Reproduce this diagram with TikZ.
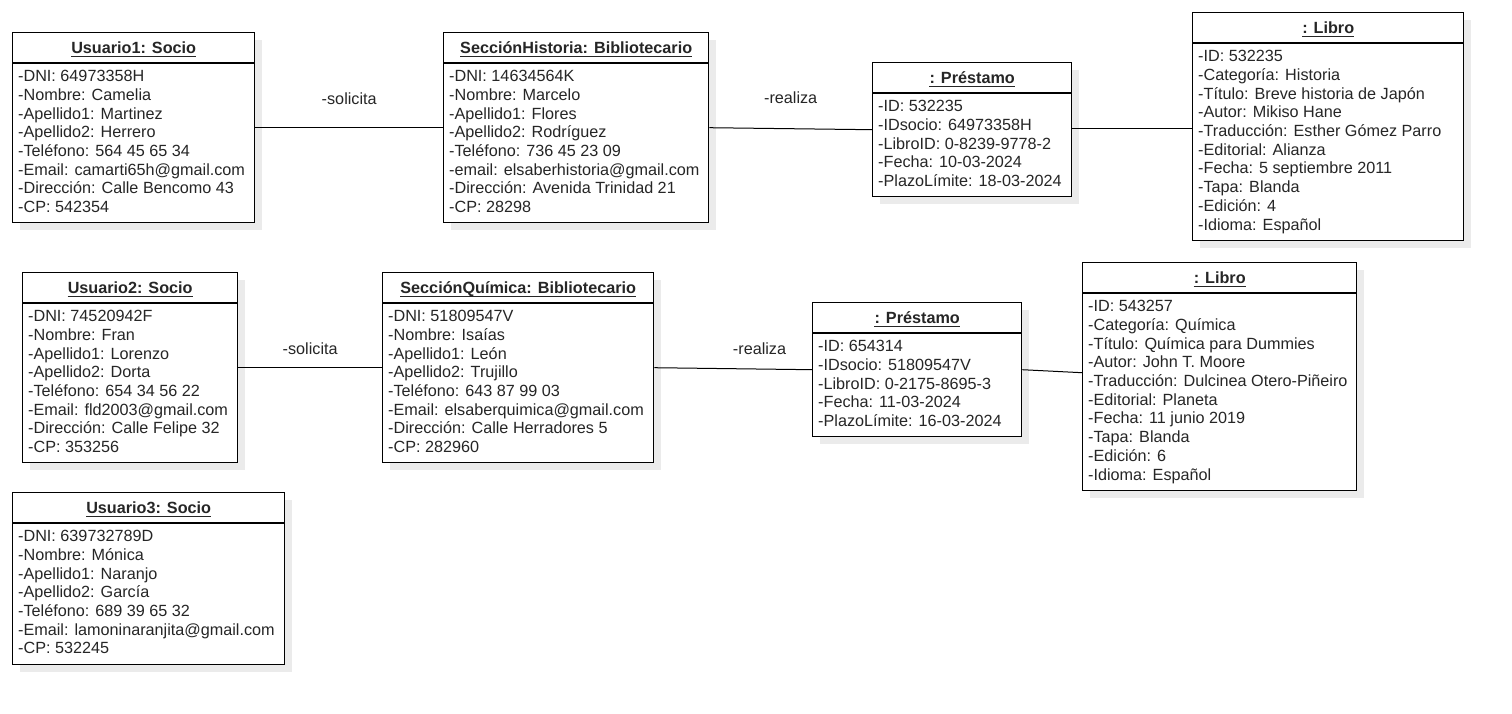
\documentclass[tikz,border=0pt]{standalone}
\usepackage{fontspec}
\setmainfont{Liberation Sans}
\usetikzlibrary{shadows}

\tikzset{
  objbox/.style={draw=black, line width=1.4pt, fill=white, inner sep=0pt,
    drop shadow={shadow xshift=7pt, shadow yshift=-7pt, fill=black!8, opacity=1}},
  divider/.style={draw=black, line width=1.3pt},
  titletext/.style={anchor=base, inner sep=0pt, text=black!85,
    font=\bfseries\fontsize{16.2}{19}\selectfont},
  uline/.style={draw=black!85, line width=1pt},
  attrtext/.style={anchor=base west, inner sep=0pt, text=black!85,
    font=\fontsize{16.2}{19}\selectfont},
  conn/.style={draw=black, line width=1pt},
  lbl/.style={anchor=base, inner sep=0pt, text=black!85,
    font=\fontsize{16.2}{19}\selectfont}
}

% object box: name, left, top, width, height, title, attribute lines
\newcommand\umlobj[7]{%
  \node[objbox, minimum width=#4pt, minimum height=#5pt, anchor=north west] (#1) at (#2,-#3) {};
  \draw[divider] ([yshift=-31pt]#1.north west) -- ([yshift=-31pt]#1.north east);
  \node[titletext] (#1-t) at ([yshift=-21pt]#1.north) {#6};
  \draw[uline] ([yshift=-3pt]#1-t.base west) -- ([yshift=-3pt]#1-t.base east);
  \foreach \txt [count=\i from 0] in {#7}
    \node[attrtext] (#1-a\i) at ([xshift=6pt,yshift=-49.7pt-\i*18.7pt]#1.north west) {\txt};
}

\begin{document}
\begin{tikzpicture}[x=1pt,y=1pt]
\fill[white] (0,0) rectangle (1512,-713);
\useasboundingbox (0,0) rectangle (1512,-713);

\umlobj{u1}{12}{32}{242}{190}{Usuario1: Socio}{%
  -DNI: 64973358H,
  -Nombre: Camelia,
  -Apellido1: Martinez,
  -Apellido2: Herrero,
  -Teléfono: 564 45 65 34,
  -Email: camarti65h@gmail.com,
  -Dirección: Calle Bencomo 43,
  -CP: 542354}

\umlobj{sh}{443}{32}{265}{190}{SecciónHistoria: Bibliotecario}{%
  -DNI: 14634564K,
  -Nombre: Marcelo,
  -Apellido1: Flores,
  -Apellido2: Rodríguez,
  -Teléfono: 736 45 23 09,
  -email: elsaberhistoria@gmail.com,
  -Dirección: Avenida Trinidad 21,
  -CP: 28298}

\umlobj{p1}{872}{62}{199}{134}{: Préstamo}{%
  -ID: 532235,
  -IDsocio: 64973358H,
  -LibroID: 0-8239-9778-2,
  -Fecha: 10-03-2024,
  -PlazoLímite: 18-03-2024}

\umlobj{l1}{1192}{12}{271}{228}{: Libro}{%
  -ID: 532235,
  -Categoría: Historia,
  -Título: Breve historia de Japón,
  -Autor: Mikiso Hane,
  -Traducción: Esther Gómez Parro,
  -Editorial: Alianza,
  -Fecha: 5 septiembre 2011,
  -Tapa: Blanda,
  -Edición: 4,
  -Idioma: Español}

\umlobj{u2}{22}{272}{215}{190}{Usuario2: Socio}{%
  -DNI: 74520942F,
  -Nombre: Fran,
  -Apellido1: Lorenzo,
  -Apellido2: Dorta,
  -Teléfono: 654 34 56 22,
  -Email: fld2003@gmail.com,
  -Dirección: Calle Felipe 32,
  -CP: 353256}

\umlobj{sq}{382}{272}{271}{190}{SecciónQuímica: Bibliotecario}{%
  -DNI: 51809547V,
  -Nombre: Isaías,
  -Apellido1: León,
  -Apellido2: Trujillo,
  -Teléfono: 643 87 99 03,
  -Email: elsaberquimica@gmail.com,
  -Dirección: Calle Herradores 5,
  -CP: 282960}

\umlobj{p2}{812}{302}{209}{134}{: Préstamo}{%
  -ID: 654314,
  -IDsocio: 51809547V,
  -LibroID: 0-2175-8695-3,
  -Fecha: 11-03-2024,
  -PlazoLímite: 16-03-2024}

\umlobj{l2}{1082}{262}{274}{228}{: Libro}{%
  -ID: 543257,
  -Categoría: Química,
  -Título: Química para Dummies,
  -Autor: John T. Moore,
  -Traducción: Dulcinea Otero-Piñeiro,
  -Editorial: Planeta,
  -Fecha: 11 junio 2019,
  -Tapa: Blanda,
  -Edición: 6,
  -Idioma: Español}

\umlobj{u3}{12}{492}{272}{172}{Usuario3: Socio}{%
  -DNI: 639732789D,
  -Nombre: Mónica,
  -Apellido1: Naranjo,
  -Apellido2: García,
  -Teléfono: 689 39 65 32,
  -Email: lamoninaranjita@gmail.com,
  -CP: 532245}

% links
\draw[conn] (u1.east) -- node[lbl, yshift=23.5pt] (lk1) {-solicita} (sh.west);
\draw[conn] (sh.east) -- node[lbl, yshift=25pt] (lk2) {-realiza} (p1.west);
\draw[conn] ([yshift=1.5pt]p1.east) -- ([yshift=-1.5pt]l1.west);
\draw[conn] (u2.east) -- node[lbl, yshift=13.5pt] (lk3) {-solicita} (sq.west);
\draw[conn] (sq.east) -- node[lbl, pos=0.667, yshift=15pt] (lk4) {-realiza} (p2.west);
\draw[conn] (p2.east) -- ([yshift=4pt]l2.west);
\end{tikzpicture}
\end{document}
